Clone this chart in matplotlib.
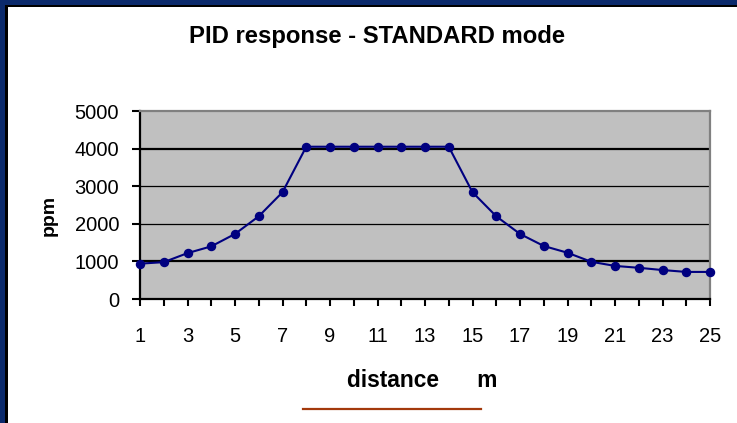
import matplotlib
matplotlib.use("Agg")
import matplotlib.pyplot as plt
from matplotlib.patches import Rectangle
from matplotlib.lines import Line2D

plt.rcParams['font.family'] = ['Liberation Sans', 'DejaVu Sans']

# values
distance = list(range(1, 26))
ppm = [940, 980, 1220, 1400, 1730, 2200, 2840, 4050, 4050, 4050, 4050, 4050, 4050, 4050,
       2840, 2200, 1730, 1410, 1230, 990, 880, 830, 770, 720, 720]
y_ticks = [0, 1000, 2000, 3000, 4000, 5000]
x_labels = [str(d) if d % 2 == 1 else '' for d in distance]

W, H = 737, 423
fig = plt.figure(figsize=(W / 100, H / 100), dpi=100)
fig.patch.set_facecolor('white')

# frame: dark blue band + thin black edge on top and left
blue = '#0b2a6c'
fig.add_artist(Rectangle((0, 1 - 5 / H), 1, 5 / H, transform=fig.transFigure, color=blue, lw=0))
fig.add_artist(Rectangle((0, 0), 5 / W, 1, transform=fig.transFigure, color=blue, lw=0))
fig.add_artist(Rectangle((5 / W, 1 - 7.5 / H), 1, 2.5 / H, transform=fig.transFigure, color='black', lw=0))
fig.add_artist(Rectangle((5 / W, 0), 2.5 / W, 1 - 5 / H, transform=fig.transFigure, color='black', lw=0))

ax = fig.add_axes([140 / W, 1 - 299 / H, 570 / W, 188 / H])
ax.set_facecolor('#c0c0c0')

for y in y_ticks[1:-1]:
    ax.axhline(y, color='black', lw=1.6 if y in (1000, 4000) else 0.9, zorder=1)

ax.plot(distance, ppm, color='#000080', lw=1.5, marker='o', ms=5.8,
        zorder=3, clip_on=False)

ax.set_xlim(1, 25)
ax.set_ylim(0, 5000)
ax.set_xticks(distance)
ax.set_xticklabels(x_labels)
ax.set_yticks(y_ticks)
ax.tick_params(axis='x', direction='out', length=5, width=1.5, pad=15, labelsize=14.5)
ax.tick_params(axis='y', direction='out', length=6, width=1.5, pad=9, labelsize=14.5)

for s in ('left', 'bottom'):
    ax.spines[s].set_color('black')
    ax.spines[s].set_linewidth(1.6)
for s in ('top', 'right'):
    ax.spines[s].set_color('#808080')
    ax.spines[s].set_linewidth(1.6)

fig.text(377 / W, 1 - 37 / H, 'PID response - STANDARD mode', ha='center', va='center',
         fontsize=17.2, fontweight='bold')
fig.text(49 / W, 1 - 215 / H, 'ppm', ha='center', va='center', rotation=90,
         fontsize=14, fontweight='bold')
fig.text(422 / W, 1 - 380 / H, 'distance      m', ha='center', va='center',
         fontsize=16.4, fontweight='bold')

fig.add_artist(Line2D([303 / W, 481 / W], [1 - 409 / H, 1 - 409 / H], transform=fig.transFigure,
                      color='#a3390c', lw=1.6))

fig.savefig('out.png', dpi=100)
